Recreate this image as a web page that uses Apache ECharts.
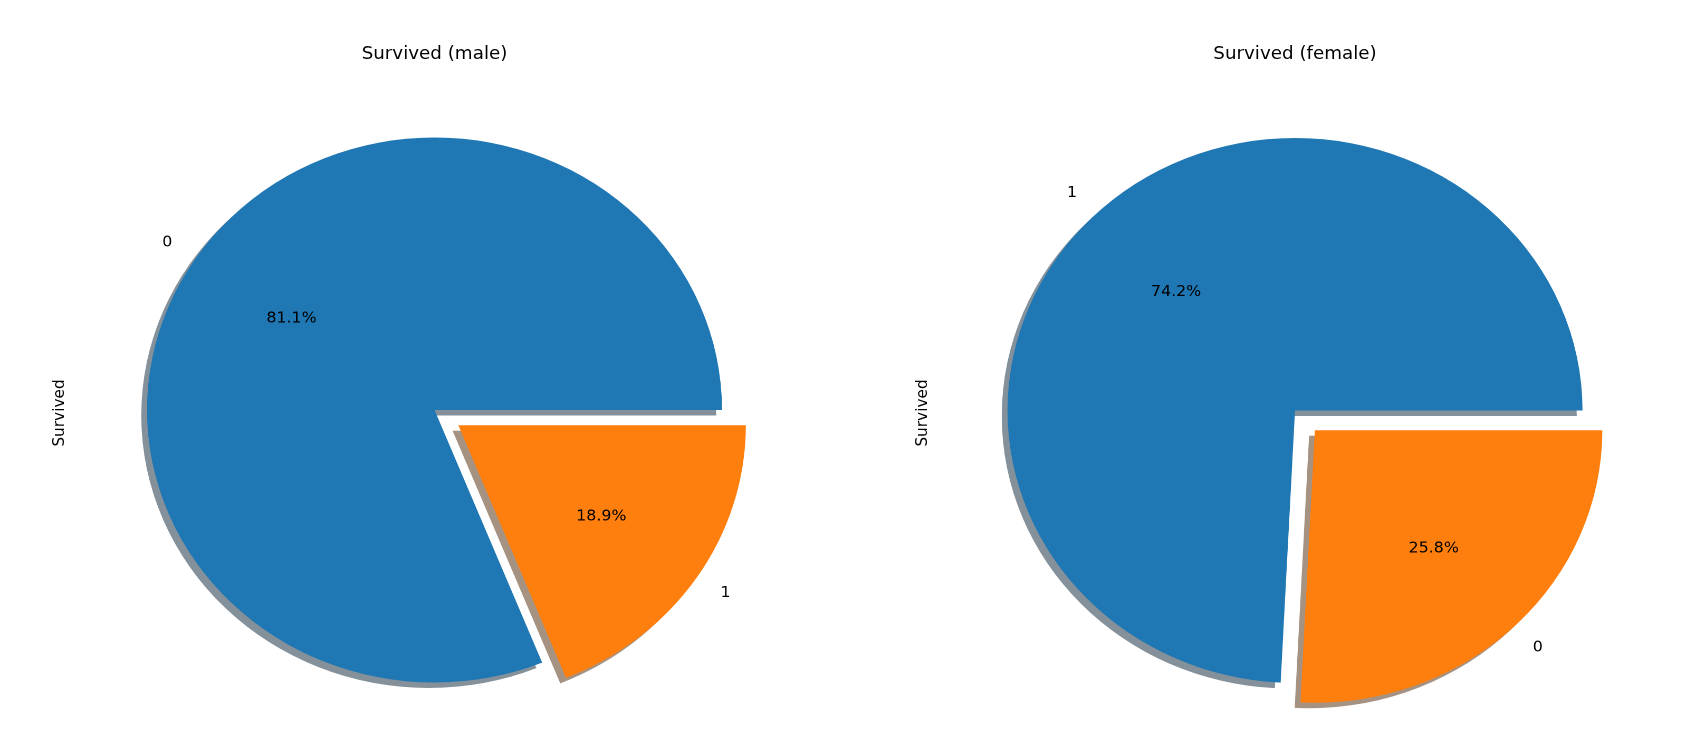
<!DOCTYPE html>
<html><head><meta charset="utf-8">
<script src="https://cdn.jsdelivr.net/npm/echarts@6/dist/echarts.min.js"></script>
<style>
html,body{margin:0;padding:0;background:#fff;overflow:hidden;}
#wrap{position:relative;width:1686px;height:740px;}
#pies{position:absolute;left:0;top:0;width:1598px;height:740px;transform:scaleX(1.055069);transform-origin:0 0;}
#texts{position:absolute;left:0;top:0;width:1686px;height:740px;}
</style></head><body>
<div id="wrap"><div id="pies"></div><div id="texts"></div></div>
<script>
// ---- data ----
const maleCategories = ['0', '1'];
const maleValues = [468, 109];
const maleExploded = [false, true];
const femaleCategories = ['1', '0'];
const femaleValues = [233, 81];
const femaleExploded = [false, true];
const titles = ['Survived (male)', 'Survived (female)'];
const yLabel = 'Survived';

// ---- layout / style ----
const S = 1686 / 1598;            // horizontal stretch of the pie layer (axes aspect)
const R = 272.5;
const fullCenters = [[434.5, 410], [1295, 410.5]];
const COLORS = ['#1f77b4', '#ff7f0e'];
const SHADOWS = ['rgba(9,36,54,0.5)', 'rgba(77,38,4,0.5)'];
const FONT = 'DejaVu Sans';

function wedgeSeries(cats, vals, expl, fc) {
  return {
    type: 'pie', center: [fc[0] / S, fc[1]], radius: [0, R],
    startAngle: 0, clockwise: false,
    selectedMode: 'multiple', selectedOffset: 0.1 * R,
    avoidLabelOverlap: false, silent: true, animation: false,
    label: { show: true, position: 'outside', formatter: '{b}', fontFamily: FONT, fontSize: 15,
             color: '#000', distanceToLabelLine: 0, textBorderWidth: 0 },
    labelLine: { show: false, length: 0.1 * R, length2: 0 },
    emphasis: { disabled: true },
    data: cats.map((c, i) => ({
      name: c, value: vals[i], selected: expl[i],
      itemStyle: { color: COLORS[i], shadowColor: SHADOWS[i], shadowBlur: 0,
                   shadowOffsetX: -0.02 * R, shadowOffsetY: 0.02 * R, borderWidth: 0 }
    }))
  };
}
function pctSeries(cats, vals, expl, fc) {
  return {
    type: 'pie', center: [fc[0] / S, fc[1]], radius: [0.2 * R - 6, R],
    startAngle: 0, clockwise: false, percentPrecision: 1,
    selectedMode: 'multiple', selectedOffset: 0.1 * R,
    avoidLabelOverlap: false, silent: true, animation: false,
    label: { show: true, position: 'inside', formatter: '{d}%', fontFamily: FONT, fontSize: 15,
             color: '#000', textBorderWidth: 0 },
    labelLine: { show: false },
    emphasis: { disabled: true },
    data: cats.map((c, i) => ({
      name: c, value: vals[i], selected: expl[i],
      itemStyle: { color: 'rgba(0,0,0,0)', borderWidth: 0 }
    }))
  };
}

const pies = echarts.init(document.getElementById('pies'), null, { devicePixelRatio: 2 });
pies.setOption({
  backgroundColor: '#fff',
  animation: false,
  series: [
    wedgeSeries(maleCategories, maleValues, maleExploded, fullCenters[0]),
    pctSeries(maleCategories, maleValues, maleExploded, fullCenters[0]),
    wedgeSeries(femaleCategories, femaleValues, femaleExploded, fullCenters[1]),
    pctSeries(femaleCategories, femaleValues, femaleExploded, fullCenters[1])
  ]
});

const texts = echarts.init(document.getElementById('texts'));
texts.setOption({
  animation: false,
  title: titles.map((t, i) => ({
    text: t, left: fullCenters[i][0], top: 54, textAlign: 'center', textVerticalAlign: 'middle', padding: 0,
    textStyle: { fontFamily: FONT, fontSize: 18.3, fontWeight: 'normal', color: '#000' }
  })),
  graphic: [60, 922.6].map(x => ({
    type: 'text', x: x, y: 413, rotation: Math.PI / 2, silent: true,
    style: { text: yLabel, fontFamily: FONT, fontSize: 15.3, fill: '#000',
             align: 'center', verticalAlign: 'middle', textAlign: 'center', textVerticalAlign: 'middle' }
  }))
});
</script>
</body></html>
